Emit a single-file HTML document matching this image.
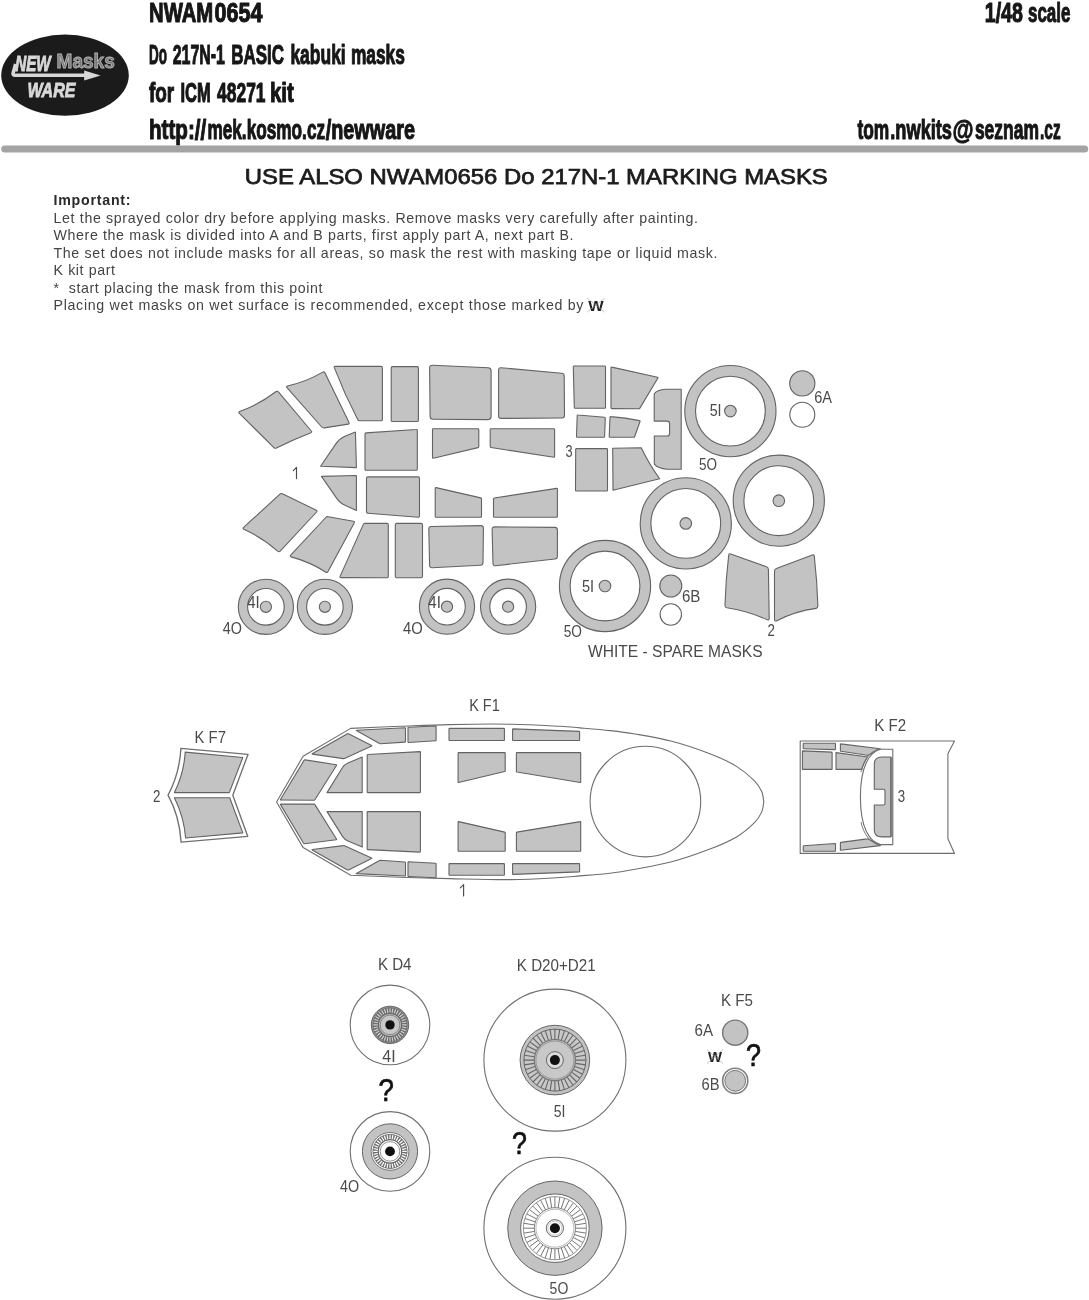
<!DOCTYPE html>
<html><head><meta charset="utf-8"><title>NWAM0654 Do 217N-1 BASIC kabuki masks</title>
<style>
html,body{margin:0;padding:0;background:#fff;}
body{width:1089px;height:1300px;overflow:hidden;position:relative;font-family:"Liberation Sans",sans-serif;}
svg{position:absolute;left:0;top:0;display:block;will-change:transform;filter:grayscale(1) blur(0.35px);}
text{font-family:"Liberation Sans",sans-serif;}
.h{font-weight:bold;fill:#161616;stroke:#161616;stroke-width:1.1px;stroke-linejoin:round;}
.b{font-size:14.2px;fill:#444;}
.l{fill:#4a4a4a;}
.m{fill:#c3c3c3;stroke:#636363;stroke-width:1.1;stroke-linejoin:round;}
.o{fill:#fff;stroke:#636363;stroke-width:1.1;stroke-linejoin:round;}
.n{fill:none;stroke:#6e6e6e;stroke-width:1.1;}
.w{fill:#fff;stroke:#6e6e6e;stroke-width:1.1;stroke-linejoin:round;}
.q{font-size:31px;fill:#111;stroke:#111;stroke-width:0.7px;}
</style></head><body>
<svg width="1089" height="1300" viewBox="0 0 1089 1300">
<rect width="1089" height="1300" fill="#fff"/>
<g id="header">
<text class="h" x="149" y="22.3" font-size="28" textLength="64.2" lengthAdjust="spacingAndGlyphs">NWAM</text>
<text class="h" x="214.6" y="22.3" font-size="28" textLength="47.8" lengthAdjust="spacingAndGlyphs">0654</text>
<text class="h" x="149" y="64" font-size="27.6" textLength="18" lengthAdjust="spacingAndGlyphs">Do</text>
<text class="h" x="172.7" y="64" font-size="27.6" textLength="52.2" lengthAdjust="spacingAndGlyphs">217N-1</text>
<text class="h" x="231.3" y="64" font-size="27.6" textLength="52.7" lengthAdjust="spacingAndGlyphs">BASIC</text>
<text class="h" x="290.4" y="64" font-size="27.6" textLength="55.3" lengthAdjust="spacingAndGlyphs">kabuki</text>
<text class="h" x="350.9" y="64" font-size="27.6" textLength="54" lengthAdjust="spacingAndGlyphs">masks</text>
<text class="h" x="149" y="102" font-size="27.6" textLength="25.2" lengthAdjust="spacingAndGlyphs">for</text>
<text class="h" x="180.4" y="102" font-size="27.6" textLength="30.3" lengthAdjust="spacingAndGlyphs">ICM</text>
<text class="h" x="217.1" y="102" font-size="27.6" textLength="48.4" lengthAdjust="spacingAndGlyphs">48271</text>
<text class="h" x="269.9" y="102" font-size="27.6" textLength="23.9" lengthAdjust="spacingAndGlyphs">kit</text>
<text class="h" x="149" y="139" font-size="27.6" textLength="57.3" lengthAdjust="spacingAndGlyphs">http://</text>
<text class="h" x="207.4" y="139" font-size="27.6" textLength="117.7" lengthAdjust="spacingAndGlyphs">mek.kosmo.cz</text>
<text class="h" x="325.7" y="139" font-size="27.6" textLength="89.3" lengthAdjust="spacingAndGlyphs">/newware</text>
<text class="h" x="984.8" y="22.2" font-size="27.6" textLength="38.1" lengthAdjust="spacingAndGlyphs">1/48</text>
<text class="h" x="1028" y="22.2" font-size="27.6" textLength="42.4" lengthAdjust="spacingAndGlyphs">scale</text>
<text class="h" x="857.4" y="139" font-size="27.6" textLength="31.8" lengthAdjust="spacingAndGlyphs">tom</text>
<text class="h" x="890.3" y="139" font-size="27.6" textLength="61.7" lengthAdjust="spacingAndGlyphs">.nwkits</text>
<text class="h" x="952.6" y="139" font-size="27.6" textLength="21" lengthAdjust="spacingAndGlyphs">@</text>
<text class="h" x="974.9" y="139" font-size="27.6" textLength="64.1" lengthAdjust="spacingAndGlyphs">seznam</text>
<text class="h" x="1040" y="139" font-size="27.6" textLength="20.6" lengthAdjust="spacingAndGlyphs">.cz</text>
<rect x="1.2" y="145.4" width="1087" height="7.1" rx="3.55" fill="#a4a4a4"/>
</g>
<g id="logo">
<ellipse cx="65" cy="75.2" rx="63.8" ry="40.6" fill="#1b1b1b"/>
<path d="M15.6,64 L13.1,73 Q12.5,75.3 15,75.3 L86,75.3" fill="none" stroke="#d8d8d8" stroke-width="3.5" stroke-linejoin="round"/>
<path d="M84.2,70.4 L100.6,75.4 L84.2,80.5 Z" fill="#d8d8d8"/>
<text x="15.2" y="70.7" font-size="21.5" font-weight="bold" font-style="italic" fill="#d8d8d8" stroke="#d8d8d8" stroke-width="0.9" textLength="35.5" lengthAdjust="spacingAndGlyphs">NEW</text>
<text x="27.4" y="96.7" font-size="21" font-weight="bold" font-style="italic" fill="#d8d8d8" stroke="#d8d8d8" stroke-width="0.9" textLength="48" lengthAdjust="spacingAndGlyphs">WARE</text>
<text x="56.6" y="68.3" font-size="20" font-weight="bold" fill="#787878" stroke="#b4b4b4" stroke-width="0.9" textLength="58.2" lengthAdjust="spacingAndGlyphs">Masks</text>
</g>
<g id="body">
<text x="244.8" y="183.7" font-size="22" fill="#1c1c1c" stroke="#1c1c1c" stroke-width="0.75" textLength="583" lengthAdjust="spacingAndGlyphs">USE ALSO NWAM0656 Do 217N-1 MARKING MASKS</text>
<text class="b" x="53.5" y="204.8" textLength="77.1" lengthAdjust="spacing" font-weight="bold" style="fill:#2a2a2a">Important:</text>
<text class="b" x="53.5" y="222.7" textLength="644.5" lengthAdjust="spacing">Let the sprayed color dry before applying masks. Remove masks very carefully after painting.</text>
<text class="b" x="53.5" y="240.2" textLength="520" lengthAdjust="spacing">Where the mask is divided into A and B parts, first apply part A, next part B.</text>
<text class="b" x="53.5" y="257.7" textLength="664" lengthAdjust="spacing">The set does not include masks for all areas, so mask the rest with masking tape or liquid mask.</text>
<text class="b" x="53.5" y="275.2" textLength="61.5" lengthAdjust="spacing">K kit part</text>
<text class="b" x="53.5" y="292.7" xml:space="preserve" textLength="269" lengthAdjust="spacing">*  start placing the mask from this point</text>
<text class="b" x="53.5" y="310.2" textLength="529.9" lengthAdjust="spacing">Placing wet masks on wet surface is recommended, except those marked by</text>
<text x="588.2" y="310.6" font-size="15.5" font-weight="bold" fill="#222" textLength="15.4" lengthAdjust="spacingAndGlyphs">W</text><path d="M587.2,298.1 L604.6,312.1 M604.6,298.1 L587.2,312.1" stroke="#999" stroke-width="0.6" fill="none"/>
</g>
<g id="sheet">
<path class="m" d="M239.6,411.6Q259.4,404.4 276.1,391.5Q277.4,390.8 278.4,391.9L311.3,431Q312.3,432.1 310.9,432.7Q293.2,439.5 276.4,448.1Q275,448.7 273.9,447.6L239.4,413.4Q238.3,412.3 239.6,411.6Z"/>
<path class="m" d="M287.4,386Q306.2,381.8 322.8,372.1Q324.2,371.5 324.9,372.8L349,422.6Q349.7,423.9 348.2,424.1L324.2,427.9Q322.7,428.1 321.7,427L287,387.7Q286,386.6 287.4,386Z"/>
<path class="m" d="M335.1,366.4L381.1,366.4Q382.4,366.4 382.4,367.7L382.4,419.4Q382.4,420.7 381.1,420.7L359.5,420.7Q358.2,420.7 357.7,419.5Q344.5,394.2 334.3,367.6Q333.8,366.4 335.1,366.4Z"/>
<path class="m" d="M392.5,366.6L417.1,366.6Q418.4,366.6 418.4,367.9L418.4,420.2Q418.4,421.5 417.1,421.5L392.5,421.5Q391.2,421.5 391.2,420.2L391.2,367.9Q391.2,366.6 392.5,366.6Z"/>
<path class="m" d="M320.6,466.2 L336,443.6 Q339.5,438.6 345.5,436 L355.4,432.1 L356.4,467.6 Z"/>
<path class="m" d="M366,432.9L416.3,429.5Q417.3,429.4 417.3,430.4L417.3,469.3Q417.3,470.3 416.3,470.3L366,470.3Q365,470.3 365,469.3L365,434Q365,433 366,432.9Z"/>
<path class="m" d="M321.5,476.4 L356.4,475.5 L356.4,510.5 L345.5,505.6 Q339.5,502.8 336.2,497.6 Z"/>
<path class="m" d="M367.8,476.9L418.2,476.9Q419.5,476.9 419.5,478.2L419.5,516Q419.5,517.3 418.2,517.2L367.8,513.2Q366.5,513.1 366.5,511.8L366.5,478.2Q366.5,476.9 367.8,476.9Z"/>
<path class="m" d="M243.6,527.4L280,494.1Q281.1,493.1 282.4,493.8L316.3,510.2Q317.6,510.9 316.6,512L280.2,551.1Q279.2,552.2 277.9,551.4Q262.6,537.6 243.8,529.2Q242.5,528.4 243.6,527.4Z"/>
<path class="m" d="M290.7,555.2L325.8,517.5Q326.8,516.4 328.3,516.7L353.4,521.3Q354.9,521.6 354.2,522.9L328,571.5Q327.3,572.8 325.9,572.2Q309.7,561.8 291.1,556.9Q289.7,556.3 290.7,555.2Z"/>
<path class="m" d="M340.1,576.4L363.2,524.6Q363.7,523.4 365,523.4L387,523.4Q388.3,523.4 388.3,524.7L388.3,576.5Q388.3,577.8 387,577.8L340.9,577.6Q339.6,577.6 340.1,576.4Z"/>
<path class="m" d="M396.8,523.4L421,523.4Q422.5,523.4 422.5,524.9L422.5,576.3Q422.5,577.8 421,577.8L396.8,577.8Q395.3,577.8 395.3,576.3L395.3,524.9Q395.3,523.4 396.8,523.4Z"/>
<path class="m" d="M432.6,365.2L488.1,367.8Q491.1,367.9 491.1,370.9L491.1,416.6Q491.1,419.6 488.1,419.6L433.1,419.3Q430.1,419.3 430.1,416.3L429.6,368.1Q429.6,365.1 432.6,365.2Z"/>
<path class="m" d="M501.1,367.7L561.7,373.2Q564.2,373.4 564.2,375.9L564.5,415.5Q564.5,418 562,418L501.1,418.4Q498.6,418.4 498.6,415.9L498.6,370Q498.6,367.5 501.1,367.7Z"/>
<path class="m" d="M433.3,428.8L478,428.8Q478.8,428.8 478.8,429.6L478.8,446.6Q478.8,447.4 478,447.6L433.3,458.2Q432.5,458.4 432.5,457.6L432.5,429.6Q432.5,428.8 433.3,428.8Z"/>
<path class="m" d="M491,428.8L553.8,428.8Q554.6,428.8 554.6,429.6L554.6,456.5Q554.6,457.3 553.8,457.2L491,447.5Q490.2,447.4 490.2,446.6L490.2,429.6Q490.2,428.8 491,428.8Z"/>
<path class="m" d="M436,487.6L480.7,497.9Q481.5,498.1 481.5,498.9L481.5,516.5Q481.5,517.3 480.7,517.3L436,517.3Q435.2,517.3 435.2,516.5L435.2,488.2Q435.2,487.4 436,487.6Z"/>
<path class="m" d="M494.3,498L556.6,488.4Q557.4,488.3 557.4,489.1L557.4,516.5Q557.4,517.3 556.6,517.3L494.3,517.3Q493.5,517.3 493.5,516.5L493.5,498.9Q493.5,498.1 494.3,498Z"/>
<path class="m" d="M431.3,526.5L480.9,525.6Q483.4,525.6 483.4,528.1L483,562.6Q483,565.1 480.5,565.2L432.1,567.7Q429.6,567.8 429.6,565.3L428.8,529Q428.8,526.5 431.3,526.5Z"/>
<path class="m" d="M494.5,526.9L554.9,527.4Q557.4,527.4 557.4,529.9L557.4,556.2Q557.4,558.7 554.9,559L495.6,565.7Q493.1,566 493,563.5L492.1,529.4Q492,526.9 494.5,526.9Z"/>
<path class="m" d="M574.1,366L604.7,366Q605.5,366 605.5,366.8L605.5,407.5Q605.5,408.3 604.7,408.3L575.1,408.3Q574.3,408.3 574.3,407.5L573.3,366.8Q573.3,366 574.1,366Z"/>
<path class="m" d="M611.8,367.1L657.5,377.2Q658.3,377.4 657.9,378.1L639.9,408.1Q639.5,408.8 638.7,408.8L611.8,408.6Q611,408.6 611,407.8L611,367.7Q611,366.9 611.8,367.1Z"/>
<path class="m" d="M578,415L604.5,417.3Q605.3,417.4 605.3,418.2L604.6,436.5Q604.6,437.3 603.8,437.3L577.3,437.3Q576.5,437.3 576.5,436.5L577.2,415.7Q577.2,414.9 578,415Z"/>
<path class="m" d="M610.8,416.6Q625.3,417.4 639.5,420.6Q640.3,420.7 640,421.5L634.7,436.5Q634.4,437.3 633.6,437.3L610,437.3Q609.2,437.3 609.2,436.5L610,417.3Q610,416.5 610.8,416.6Z"/>
<path class="m" d="M576.5,448.6L606.7,448.6Q607.5,448.6 607.5,449.4L607.5,490.2Q607.5,491 606.7,491L576.3,491Q575.5,491 575.5,490.2L575.7,449.4Q575.7,448.6 576.5,448.6Z"/>
<path class="m" d="M612.7,448.3 L641.2,447.7 Q648.5,463 659.6,478.8 L613,490.2 Z"/>
<path class="m" d="M654.2,394 Q656.5,390 666,389.3 L681.2,389.3 L681.2,469.3 L667,469.3 Q658,468.6 654.3,464.2 L654.3,436 L667,436 Q669.6,436 669.6,433.4 L669.6,423.7 Q669.6,421.1 667,421.1 L654.2,421.1 Z"/>
<circle class="m" cx="730.4" cy="411.1" r="45.6"/><circle class="o" cx="730.4" cy="411.1" r="34.9"/><circle class="m" cx="730.4" cy="411.1" r="5.8"/>
<circle class="m" cx="685.8" cy="523.4" r="45.6"/><circle class="o" cx="685.8" cy="523.4" r="34.9"/><circle class="m" cx="685.8" cy="523.4" r="5.8"/>
<circle class="m" cx="778.8" cy="500.7" r="45.6"/><circle class="o" cx="778.8" cy="500.7" r="34.9"/><circle class="m" cx="778.8" cy="500.7" r="5.8"/>
<circle class="m" cx="605" cy="586" r="45.6"/><circle class="o" cx="605" cy="586" r="34.9"/><circle class="m" cx="605" cy="586" r="5.8"/>
<circle class="m" cx="265.9" cy="606.8" r="27.6"/><circle class="o" cx="265.9" cy="606.8" r="18.3"/><circle class="m" cx="265.9" cy="606.8" r="5.6"/>
<circle class="m" cx="324.9" cy="606.8" r="27.6"/><circle class="o" cx="324.9" cy="606.8" r="18.3"/><circle class="m" cx="324.9" cy="606.8" r="5.6"/>
<circle class="m" cx="447" cy="606.7" r="27.6"/><circle class="o" cx="447" cy="606.7" r="18.3"/><circle class="m" cx="447" cy="606.7" r="5.6"/>
<circle class="m" cx="508.1" cy="606.7" r="27.6"/><circle class="o" cx="508.1" cy="606.7" r="18.3"/><circle class="m" cx="508.1" cy="606.7" r="5.6"/>
<circle class="m" cx="802.3" cy="383.4" r="12.6"/><circle class="o" cx="802.3" cy="414.7" r="12.5"/>
<circle class="m" cx="670.8" cy="586" r="11"/><circle class="o" cx="670.8" cy="614.5" r="10.7"/>
<path class="m" d="M730.7,553.9L766.5,566.8Q768.4,567.5 768.4,569.5L769.2,618.4Q769.2,620.4 767.3,619.8Q747.9,610.9 726.8,607.8Q724.9,607.2 725,605.2Q725.7,580.1 728.7,555.2Q728.8,553.2 730.7,553.9Z"/>
<path class="m" d="M776.4,568.5L812.3,555Q814.2,554.3 814.3,556.3Q817.1,581 817.9,605.8Q818,607.8 816.1,608.4Q795.2,611.2 776.4,620.9Q774.5,621.5 774.5,619.5L774.5,571.2Q774.5,569.2 776.4,568.5Z"/>
<path d="M293.3,470.6 L296.5,467.3 L296.5,478.6" fill="none" stroke="#4a4a4a" stroke-width="1.15" stroke-linejoin="round" stroke-linecap="round"/>
<text class="l" x="565.4" y="457.4" font-size="15.8" textLength="7.1" lengthAdjust="spacingAndGlyphs">3</text>
<text class="l" x="709.7" y="415.6" font-size="15.8" textLength="11.9" lengthAdjust="spacingAndGlyphs">5I</text>
<text class="l" x="699" y="469.8" font-size="15.8" textLength="18" lengthAdjust="spacingAndGlyphs">5O</text>
<text class="l" x="814.2" y="402.9" font-size="15.8" textLength="17.8" lengthAdjust="spacingAndGlyphs">6A</text>
<text class="l" x="581.9" y="591.5" font-size="15.8" textLength="12.1" lengthAdjust="spacingAndGlyphs">5I</text>
<text class="l" x="563.7" y="636.6" font-size="15.8" textLength="18.2" lengthAdjust="spacingAndGlyphs">5O</text>
<text class="l" x="681.9" y="602" font-size="15.8" textLength="18.5" lengthAdjust="spacingAndGlyphs">6B</text>
<text class="l" x="767.6" y="636.2" font-size="15.8" textLength="7.4" lengthAdjust="spacingAndGlyphs">2</text>
<text class="l" x="247.3" y="608" font-size="15.8" textLength="12.5" lengthAdjust="spacingAndGlyphs">4I</text>
<text class="l" x="222.7" y="634.2" font-size="15.8" textLength="19.2" lengthAdjust="spacingAndGlyphs">4O</text>
<text class="l" x="428.3" y="607.8" font-size="15.8" textLength="12.6" lengthAdjust="spacingAndGlyphs">4I</text>
<text class="l" x="403.1" y="634" font-size="15.8" textLength="19.8" lengthAdjust="spacingAndGlyphs">4O</text>
<text class="l" x="588" y="657" font-size="15.8" textLength="174.6" lengthAdjust="spacingAndGlyphs">WHITE - SPARE MASKS</text>
</g>
<g id="kit">
<path class="w" style="stroke-width:1.35;stroke:#707070" d="M180.9,748.3 L248,754.4 L232.8,795.2 L247.7,836.3 L181.1,842.1 Q179.5,816 168,795.2 Q179.5,774 180.9,748.3 Z"/>
<path class="m" d="M185.2,752.1 L242.8,757.5 L229.3,792.6 L174.4,792.6 Q184,773 185.2,752.1 Z"/>
<path class="m" d="M174.4,797.8 L229.7,797.8 L242.8,832.9 L185.6,838 Q184,817 174.4,797.8 Z"/>
<path class="w" d="M276.6,802 L303.1,756.2 L350.7,728.4 L350.7,728.4C358.9,728 383.4,726.9 400,726.3C416.6,725.7 431.5,725 450,724.6C468.5,724.2 492.7,723.9 511,724.2C529.3,724.5 548.5,725.7 560,726.3C571.5,726.9 571.7,727.2 580,727.9C588.3,728.6 600.8,729.6 610,730.6C619.2,731.6 624.8,732.2 635.1,734C645.4,735.8 659.5,738.1 671.8,741.3C684,744.5 697.9,749.2 708.6,753.3C719.3,757.4 728.5,761.5 736.1,766.1C743.8,770.7 750.2,776.5 754.5,780.8C758.8,785.1 760.2,788.3 761.8,791.8C763.3,795.3 763.5,800.1 763.8,801.8 L763.8,801.8C763.5,803.5 763.3,808.3 761.8,811.8C760.2,815.3 758.8,818.4 754.5,822.6C750.2,826.8 743.8,832.7 736.1,837.2C728.5,841.7 719.3,845.5 708.6,849.6C697.9,853.7 684,858.5 671.8,861.8C659.5,865.1 645.4,867.3 635.1,869.2C624.8,871.1 619.2,872.1 610,873.2C600.8,874.3 588.3,875.2 580,875.9C571.7,876.6 571.5,876.9 560,877.5C548.5,878.1 529.3,879.4 511,879.6C492.7,879.8 468.5,879 450,878.6C431.5,878.2 416.6,877.8 400,877.2C383.4,876.6 358.9,875.5 350.7,875.2 L303.1,847.6 Z"/>
<circle class="n" cx="645.4" cy="801.6" r="55.3"/>
<path class="m" d="M280.5,799.5L304.1,760.3Q304.4,759.8 305,759.9L336.3,764.7Q336.9,764.8 336.6,765.3L314.9,799.8Q314.6,800.3 314,800.3L280.8,800Q280.2,800 280.5,799.5Z"/>
<path class="m" d="M312.2,753.7L347.5,733.7Q348,733.4 348.5,733.7L371.6,745.5Q372.1,745.8 371.6,746.1L344.5,758.4Q344,758.7 343.4,758.6L312.3,754.1Q311.7,754 312.2,753.7Z"/>
<path class="m" d="M356.5,730.2L405,727.8Q405.5,727.8 405.5,728.3L405.5,741.6Q405.5,742.1 405,742.1L380.4,743.8Q379.9,743.8 379.5,743.6L356.4,730.4Q356,730.2 356.5,730.2Z"/>
<path class="m" d="M408.5,727.3L435.6,726Q436.1,726 436.1,726.5L436.1,740.3Q436.1,740.8 435.6,740.8L408.5,742.5Q408,742.5 408,742L408,727.8Q408,727.3 408.5,727.3Z"/>
<path class="m" d="M327,792.6 L342.5,767.5 Q344.4,764.5 348,762.9 L362.2,757 L362.2,792.6 Z"/>
<path class="m" d="M367.7,754.5L419.9,751.6Q420.4,751.6 420.4,752.1L420.4,792.1Q420.4,792.6 419.9,792.6L367.7,792.6Q367.2,792.6 367.2,792.1L367.2,755Q367.2,754.5 367.7,754.5Z"/>
<path class="m" d="M280.8,804.1L314,804.1Q314.6,804.1 314.9,804.6L336.6,839.2Q336.9,839.7 336.3,839.8L304.5,843.7Q303.9,843.8 303.6,843.3L280.5,804.6Q280.2,804.1 280.8,804.1Z"/>
<path class="m" d="M312.3,849.5L343.4,845.6Q344,845.5 344.5,845.7L371.6,858Q372.1,858.2 371.6,858.5L348.5,869.9Q348,870.2 347.5,869.9L312.2,849.9Q311.7,849.6 312.3,849.5Z"/>
<path class="m" d="M356.4,873.4L379.5,860.5Q379.9,860.3 380.4,860.3L405,862Q405.5,862 405.5,862.5L405.5,875.5Q405.5,876 405,876L356.5,873.6Q356,873.6 356.4,873.4Z"/>
<path class="m" d="M408.5,861.7L435.6,863.3Q436.1,863.3 436.1,863.8L436.1,877.2Q436.1,877.7 435.6,877.7L408.5,876.5Q408,876.5 408,876L408,862.2Q408,861.7 408.5,861.7Z"/>
<path class="m" d="M327,811.6 L362.2,811.6 L362.2,847.1 L348,841 Q344.4,839.4 342.5,836.4 Z"/>
<path class="m" d="M367.7,811.6L419.9,811.6Q420.4,811.6 420.4,812.1L420.4,851.6Q420.4,852.1 419.9,852.1L367.7,849.6Q367.2,849.6 367.2,849.1L367.2,812.1Q367.2,811.6 367.7,811.6Z"/>
<path class="m" d="M449.5,728.4L503.9,728.4Q504.4,728.4 504.4,728.9L504.4,740Q504.4,740.5 503.9,740.5L449.5,740.5Q449,740.5 449,740L449,728.9Q449,728.4 449.5,728.4Z"/>
<path class="m" d="M513.1,728.9L579.1,731.4Q579.6,731.4 579.6,731.9L579.6,740Q579.6,740.5 579.1,740.5L513.1,740.5Q512.6,740.5 512.6,740L512.6,729.4Q512.6,728.9 513.1,728.9Z"/>
<path class="m" d="M458.6,752.6L504.7,752.6Q505.2,752.6 505.2,753.1L505.2,770.9Q505.2,771.4 504.7,771.5L458.6,782.5Q458.1,782.6 458.1,782.1L458.1,753.1Q458.1,752.6 458.6,752.6Z"/>
<path class="m" d="M516.9,752.6L580.2,752.6Q580.7,752.6 580.7,753.1L580.7,782.1Q580.7,782.6 580.2,782.5L516.9,772Q516.4,771.9 516.4,771.4L516.4,753.1Q516.4,752.6 516.9,752.6Z"/>
<path class="m" d="M458.6,821.6L504.7,832.1Q505.2,832.2 505.2,832.7L505.2,850.7Q505.2,851.2 504.7,851.2L458.6,851.2Q458.1,851.2 458.1,850.7L458.1,822Q458.1,821.5 458.6,821.6Z"/>
<path class="m" d="M516.9,832.1L580.2,821.6Q580.7,821.5 580.7,822L580.7,850.7Q580.7,851.2 580.2,851.2L516.9,851.2Q516.4,851.2 516.4,850.7L516.4,832.7Q516.4,832.2 516.9,832.1Z"/>
<path class="m" d="M449.5,863.6L503.9,863.6Q504.4,863.6 504.4,864.1L504.4,874.7Q504.4,875.2 503.9,875.2L449.5,875.2Q449,875.2 449,874.7L449,864.1Q449,863.6 449.5,863.6Z"/>
<path class="m" d="M513.1,863.6L579.1,863.6Q579.6,863.6 579.6,864.1L579.6,871.4Q579.6,871.9 579.1,871.9L513.1,874.4Q512.6,874.4 512.6,873.9L512.6,864.1Q512.6,863.6 513.1,863.6Z"/>
<path class="w" d="M800.2,741 L954.5,741 L947.9,753.7 L947.9,838.8 L954.5,853.4 L800.2,853.4 Z"/>
<path class="m" d="M803.7,743.3L835,743.3Q835.5,743.3 835.5,743.8L835.5,749.1Q835.5,749.6 835,749.6L803.7,748.8Q803.2,748.8 803.2,748.3L803.2,743.8Q803.2,743.3 803.7,743.3Z"/>
<path class="m" d="M802.9,750.9L831.6,752.1Q832.1,752.1 832.1,752.6L832.1,768.9Q832.1,769.4 831.6,769.4L802.9,769.4Q802.4,769.4 802.4,768.9L802.4,751.4Q802.4,750.9 802.9,750.9Z"/>
<path class="m" d="M840.9,743.9L880.1,748.7Q880.6,748.8 880.2,749L868.1,755.2Q867.7,755.4 867.2,755.3L840.9,751.3Q840.4,751.2 840.4,750.7L840.4,744.3Q840.4,743.8 840.9,743.9Z"/>
<path class="m" d="M836,752.6 L867.7,757 Q863.5,763 861.9,769.4 L836,769.4 Z"/>
<path class="m" d="M803.7,845.8L835,843.5Q835.5,843.5 835.5,844L835.5,850.7Q835.5,851.2 835,851.2L803.7,851.2Q803.2,851.2 803.2,850.7L803.2,846.3Q803.2,845.8 803.7,845.8Z"/>
<path class="m" d="M840.9,842.4L867.2,838.9Q867.7,838.8 868.1,839L880.2,845.3Q880.6,845.5 880.1,845.6L840.9,850.3Q840.4,850.4 840.4,849.9L840.4,843Q840.4,842.5 840.9,842.4Z"/>
<path class="w" d="M880.6,749.3 L892.8,749.3 L892.8,844.6 L880.6,844.6 C870,842 860.4,829 860.4,797 C860.4,765 870,752 880.6,749.3 Z"/>
<path class="n" d="M879.5,748.6 C870,751.5 863.5,760 861,772 M879.5,845.3 C870,842.5 863.5,834 861,822" style="stroke-width:0.9"/>
<path class="m" d="M874.3,764 Q874.3,757 882,757 L890.6,757 L890.6,836.9 L882,836.9 Q874.3,836.9 874.3,830 L874.3,805 L883.4,805 Q885,805 885,803.4 L885,790.9 Q885,789.3 883.4,789.3 L874.3,789.3 Z"/>
<path d="M891.6,757 L891.6,837" stroke="#808080" stroke-width="2.2" fill="none"/>
<text class="l" x="194.6" y="742.5" font-size="15.8" textLength="31.3" lengthAdjust="spacingAndGlyphs">K F7</text>
<text class="l" x="152.9" y="801.6" font-size="15.8" textLength="7.4" lengthAdjust="spacingAndGlyphs">2</text>
<text class="l" x="469.2" y="711.2" font-size="15.8" textLength="30.6" lengthAdjust="spacingAndGlyphs">K F1</text>
<path d="M460.3,887.8 L463.6,884.6 L463.6,895.9" fill="none" stroke="#4a4a4a" stroke-width="1.15" stroke-linejoin="round" stroke-linecap="round"/>
<text class="l" x="874.3" y="730.9" font-size="15.8" textLength="31.9" lengthAdjust="spacingAndGlyphs">K F2</text>
<text class="l" x="897.8" y="802.1" font-size="15.8" textLength="7.4" lengthAdjust="spacingAndGlyphs">3</text>
</g>
<g id="wheels">
<circle cx="390" cy="1024.9" r="39.8" fill="#fff" stroke="#707070" stroke-width="1.1"/>
<circle cx="390" cy="1024.9" r="18.7" fill="#8e8e8e" stroke="#5e5e5e" stroke-width="0.9"/>
<circle cx="390" cy="1024.9" r="17.3" fill="#6c6c6c"/>
<path d="M402.3,1024.9L406.7,1024.9M402.1,1027L406.4,1027.8M401.6,1029.1L405.7,1030.6M400.7,1031.1L404.5,1033.2M399.4,1032.8L402.8,1035.6M397.9,1034.3L400.7,1037.7M396.1,1035.6L398.4,1039.4M394.2,1036.5L395.7,1040.6M392.1,1037L392.9,1041.3M390,1037.2L390,1041.6M387.9,1037L387.1,1041.3M385.8,1036.5L384.3,1040.6M383.9,1035.6L381.6,1039.4M382.1,1034.3L379.3,1037.7M380.6,1032.8L377.2,1035.6M379.3,1031.1L375.5,1033.2M378.4,1029.1L374.3,1030.6M377.9,1027L373.6,1027.8M377.7,1024.9L373.3,1024.9M377.9,1022.8L373.6,1022M378.4,1020.7L374.3,1019.2M379.3,1018.8L375.5,1016.6M380.6,1017L377.2,1014.2M382.1,1015.5L379.3,1012.1M383.9,1014.2L381.6,1010.4M385.8,1013.3L384.3,1009.2M387.9,1012.8L387.1,1008.5M390,1012.6L390,1008.2M392.1,1012.8L392.9,1008.5M394.2,1013.3L395.7,1009.2M396.1,1014.2L398.3,1010.4M397.9,1015.5L400.7,1012.1M399.4,1017L402.8,1014.2M400.7,1018.8L404.5,1016.6M401.6,1020.7L405.7,1019.2M402.1,1022.8L406.4,1022" stroke="#cfcfcf" stroke-width="1.15" fill="none"/>
<circle cx="390" cy="1024.9" r="12" fill="#6a6a6a"/>
<circle cx="390" cy="1024.9" r="11" fill="#bdbdbd"/>
<circle cx="390" cy="1024.9" r="9.8" fill="#c8c8c8" stroke="#6e6e6e" stroke-width="0.7"/>
<circle cx="390" cy="1024.9" r="4.7" fill="#111"/>
<circle cx="390" cy="1151.4" r="39.8" fill="#fff" stroke="#707070" stroke-width="1.1"/>
<circle cx="390" cy="1151.4" r="27.6" fill="#c3c3c3" stroke="#666" stroke-width="1"/>
<circle cx="390" cy="1151.4" r="18.9" fill="#fff" stroke="#666" stroke-width="0.9"/>
<circle cx="390" cy="1151.4" r="17.5" fill="#707070"/>
<path d="M402.3,1151.4L406.7,1151.4M402.1,1153.5L406.4,1154.3M401.6,1155.6L405.7,1157.1M400.7,1157.6L404.5,1159.8M399.4,1159.3L402.8,1162.1M397.9,1160.8L400.7,1164.2M396.1,1162.1L398.4,1165.9M394.2,1163L395.7,1167.1M392.1,1163.5L392.9,1167.8M390,1163.7L390,1168.1M387.9,1163.5L387.1,1167.8M385.8,1163L384.3,1167.1M383.9,1162.1L381.6,1165.9M382.1,1160.8L379.3,1164.2M380.6,1159.3L377.2,1162.1M379.3,1157.6L375.5,1159.8M378.4,1155.6L374.3,1157.1M377.9,1153.5L373.6,1154.3M377.7,1151.4L373.3,1151.4M377.9,1149.3L373.6,1148.5M378.4,1147.2L374.3,1145.7M379.3,1145.2L375.5,1143.1M380.6,1143.5L377.2,1140.7M382.1,1142L379.3,1138.6M383.9,1140.7L381.6,1136.9M385.8,1139.8L384.3,1135.7M387.9,1139.3L387.1,1135M390,1139.1L390,1134.7M392.1,1139.3L392.9,1135M394.2,1139.8L395.7,1135.7M396.1,1140.7L398.3,1136.9M397.9,1142L400.7,1138.6M399.4,1143.5L402.8,1140.7M400.7,1145.2L404.5,1143.1M401.6,1147.2L405.7,1145.7M402.1,1149.3L406.4,1148.5" stroke="#fff" stroke-width="1.2" fill="none"/>
<circle cx="390" cy="1151.4" r="12" fill="#666"/>
<circle cx="390" cy="1151.4" r="11.1" fill="#fff"/>
<circle cx="390" cy="1151.4" r="9.8" fill="#fff" stroke="#666" stroke-width="0.7"/>
<circle cx="390" cy="1151.4" r="4.9" fill="#111"/>
<circle cx="554.9" cy="1060.1" r="71" fill="#fff" stroke="#707070" stroke-width="1.1"/>
<circle cx="554.9" cy="1060.1" r="34.8" fill="#c2c2c2" stroke="#666" stroke-width="1.0"/>
<circle cx="554.9" cy="1060.1" r="31" fill="#c8c8c8" stroke="#666" stroke-width="1.0"/>
<path d="M575.9,1060.1L585.9,1060.1M575.6,1063.4L585.5,1064.9M574.9,1066.6L584.4,1069.7M573.6,1069.6L582.5,1074.2M571.9,1072.4L580,1078.3M569.7,1074.9L576.8,1082M567.2,1077.1L573.1,1085.2M564.4,1078.8L569,1087.7M561.4,1080.1L564.5,1089.6M558.2,1080.8L559.7,1090.7M554.9,1081.1L554.9,1091.1M551.6,1080.8L550.1,1090.7M548.4,1080.1L545.3,1089.6M545.4,1078.8L540.8,1087.7M542.6,1077.1L536.7,1085.2M540.1,1074.9L533,1082M537.9,1072.4L529.8,1078.3M536.2,1069.6L527.3,1074.2M534.9,1066.6L525.4,1069.7M534.2,1063.4L524.3,1064.9M533.9,1060.1L523.9,1060.1M534.2,1056.8L524.3,1055.3M534.9,1053.6L525.4,1050.5M536.2,1050.6L527.3,1046M537.9,1047.8L529.8,1041.9M540.1,1045.3L533,1038.2M542.6,1043.1L536.7,1035M545.4,1041.4L540.8,1032.5M548.4,1040.1L545.3,1030.6M551.6,1039.4L550.1,1029.5M554.9,1039.1L554.9,1029.1M558.2,1039.4L559.7,1029.5M561.4,1040.1L564.5,1030.6M564.4,1041.4L569,1032.5M567.2,1043.1L573.1,1035M569.7,1045.3L576.8,1038.2M571.9,1047.8L580,1041.9M573.6,1050.6L582.5,1046M574.9,1053.6L584.4,1050.5M575.6,1056.8L585.5,1055.3" stroke="#666" stroke-width="1.1" fill="none"/>
<circle cx="554.9" cy="1060.1" r="21.3" fill="#787878"/>
<circle cx="554.9" cy="1060.1" r="20" fill="#c4c4c4"/>
<circle cx="554.9" cy="1060.1" r="19" fill="#c8c8c8" stroke="#787878" stroke-width="0.6"/>
<circle cx="554.9" cy="1060.1" r="8.5" fill="#dadada" stroke="#5a5a5a" stroke-width="0.9"/>
<circle cx="554.9" cy="1060.1" r="5" fill="#111"/>
<circle cx="554.9" cy="1228.2" r="71" fill="#fff" stroke="#707070" stroke-width="1.1"/>
<circle cx="554.9" cy="1228.2" r="47.2" fill="#c3c3c3" stroke="#666" stroke-width="1"/>
<circle cx="554.9" cy="1228.2" r="34.3" fill="#fff" stroke="#666" stroke-width="1"/>
<circle cx="554.9" cy="1228.2" r="31.6" fill="#fff" stroke="#777" stroke-width="0.8"/>
<path d="M575.4,1228.2L586.2,1228.2M575.1,1231.4L585.8,1233.1M574.4,1234.5L584.7,1237.9M573.2,1237.5L582.8,1242.4M571.5,1240.2L580.2,1246.6M569.4,1242.7L577,1250.3M566.9,1244.8L573.3,1253.5M564.2,1246.5L569.1,1256.1M561.2,1247.7L564.6,1258M558.1,1248.4L559.8,1259.1M554.9,1248.7L554.9,1259.5M551.7,1248.4L550,1259.1M548.6,1247.7L545.2,1258M545.6,1246.5L540.7,1256.1M542.9,1244.8L536.5,1253.5M540.4,1242.7L532.8,1250.3M538.3,1240.2L529.6,1246.6M536.6,1237.5L527,1242.4M535.4,1234.5L525.1,1237.9M534.7,1231.4L524,1233.1M534.4,1228.2L523.6,1228.2M534.7,1225L524,1223.3M535.4,1221.9L525.1,1218.5M536.6,1218.9L527,1214M538.3,1216.2L529.6,1209.8M540.4,1213.7L532.8,1206.1M542.9,1211.6L536.5,1202.9M545.6,1209.9L540.7,1200.3M548.6,1208.7L545.2,1198.4M551.7,1208L550,1197.3M554.9,1207.7L554.9,1196.9M558.1,1208L559.8,1197.3M561.2,1208.7L564.6,1198.4M564.2,1209.9L569.1,1200.3M566.9,1211.6L573.3,1202.9M569.4,1213.7L577,1206.1M571.5,1216.2L580.2,1209.8M573.2,1218.9L582.8,1214M574.4,1221.9L584.7,1218.5M575.1,1225L585.8,1223.3" stroke="#666" stroke-width="0.9" fill="none"/>
<circle cx="554.9" cy="1228.2" r="20.6" fill="#fff" stroke="#666" stroke-width="0.8"/>
<circle cx="554.9" cy="1228.2" r="19" fill="#fff" stroke="#888" stroke-width="0.6"/>
<circle cx="554.9" cy="1228.2" r="8.6" fill="#fff" stroke="#555" stroke-width="0.9"/>
<circle cx="554.9" cy="1228.2" r="7" fill="#fff" stroke="#999" stroke-width="0.5"/>
<circle cx="554.9" cy="1228.2" r="5" fill="#111"/>
<circle class="m" cx="735.2" cy="1032.7" r="12.6" style="stroke-width:1.4;stroke:#777"/>
<circle cx="735.2" cy="1080.8" r="12.6" fill="#fff" stroke="#808080" stroke-width="1.6"/>
<circle cx="735.2" cy="1080.8" r="10.4" fill="#c3c3c3" stroke="#777" stroke-width="1.0"/>
<text class="l" x="377.9" y="969.5" font-size="15.8" textLength="33.6" lengthAdjust="spacingAndGlyphs">K D4</text>
<text class="l" x="382.3" y="1061.6" font-size="15.8" textLength="13.3" lengthAdjust="spacingAndGlyphs">4I</text>
<text class="l" x="340.1" y="1192.3" font-size="15.8" textLength="19.1" lengthAdjust="spacingAndGlyphs">4O</text>
<text class="l" x="516.8" y="970.8" font-size="15.8" textLength="78.9" lengthAdjust="spacingAndGlyphs">K D20+D21</text>
<text class="l" x="553.8" y="1117.2" font-size="15.8" textLength="11.7" lengthAdjust="spacingAndGlyphs">5I</text>
<text class="l" x="549.6" y="1294" font-size="15.8" textLength="18.7" lengthAdjust="spacingAndGlyphs">5O</text>
<text class="l" x="721" y="1005.5" font-size="15.8" textLength="32" lengthAdjust="spacingAndGlyphs">K F5</text>
<text class="l" x="694.5" y="1036" font-size="15.8" textLength="18.5" lengthAdjust="spacingAndGlyphs">6A</text>
<text class="l" x="701.5" y="1090" font-size="15.8" textLength="18" lengthAdjust="spacingAndGlyphs">6B</text>
<text class="q" x="378.5" y="1101.4" textLength="15.4" lengthAdjust="spacingAndGlyphs">?</text>
<text class="q" x="512.1" y="1154.3" textLength="14.9" lengthAdjust="spacingAndGlyphs">?</text>
<text class="q" x="746" y="1066" textLength="15" lengthAdjust="spacingAndGlyphs">?</text>
<text x="708" y="1062" font-size="15.5" font-weight="bold" fill="#222" textLength="14" lengthAdjust="spacingAndGlyphs">W</text><path d="M707,1049.5 L723,1063.5 M723,1049.5 L707,1063.5" stroke="#999" stroke-width="0.6" fill="none"/>
</g>
</svg>
</body></html>
